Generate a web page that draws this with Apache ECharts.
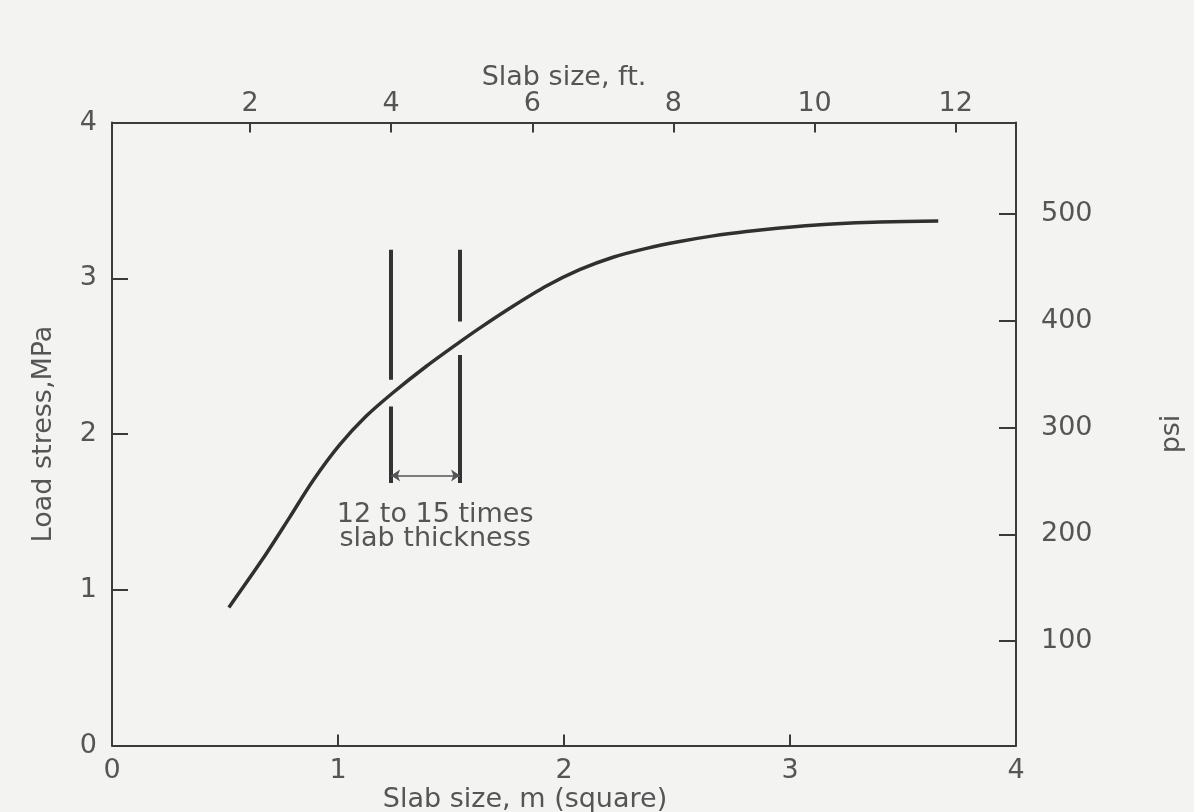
<!DOCTYPE html>
<html>
<head>
<meta charset="utf-8">
<script src="https://cdn.jsdelivr.net/npm/echarts@6/dist/echarts.min.js"></script>
<style>
  html, body { margin: 0; padding: 0; background: #f3f3f2; }
  #chart { width: 1194px; height: 812px; }
</style>
</head>
<body>
<div id="chart"></div>
<script>
// ---- data ----
const curveX = [0.517, 0.668, 0.786, 0.889, 1.007, 1.125, 1.243, 1.391, 1.538, 1.627, 1.774, 1.922, 2.069, 2.217, 2.365, 2.512, 2.660, 2.807, 2.955, 3.102, 3.250, 3.398, 3.656];
const curveY = [0.886, 1.200, 1.465, 1.700, 1.930, 2.115, 2.265, 2.435, 2.590, 2.680, 2.820, 2.950, 3.055, 3.135, 3.192, 3.236, 3.272, 3.300, 3.323, 3.341, 3.353, 3.361, 3.367];

const mTicks = [0, 1, 2, 3, 4];
const mpaTicks = [0, 1, 2, 3, 4];
const ftTicks = [2, 4, 6, 8, 10, 12];
const ftRange = [0.044, 12.854];
const psiTicks = [100, 200, 300, 400, 500];
const psiRange = [2, 586];

// marker bars: x position, [top, gap top, gap bottom, bottom]
const barLeftX = 1.235;
const barRightX = 1.54;
const barLeftY = [3.183, 2.348, 2.177, 1.686];
const barRightY = [3.183, 2.722, 2.508, 1.686];
const arrowY = 1.733;
const noteText = ['12 to 15 times', 'slab thickness'];
const notePos = [1.43, 1.405];

const titles = {
  bottom: 'Slab size, m (square)',
  top: 'Slab size, ft.',
  left: 'Load stress,MPa',
  right: 'psi'
};

// ---- chart ----
const chart = echarts.init(document.getElementById('chart'));
const FONT = 'DejaVu Sans';
const TXT = '#555555';
const LINE = '#3a3a3a';
const FS = 27;

const curveData = curveX.map((x, i) => [x, curveY[i]]);
const barSegments = [
  { coords: [[barLeftX, barLeftY[0]], [barLeftX, barLeftY[1]]] },
  { coords: [[barLeftX, barLeftY[2]], [barLeftX, barLeftY[3]]] },
  { coords: [[barRightX, barRightY[0]], [barRightX, barRightY[1]]] },
  { coords: [[barRightX, barRightY[2]], [barRightX, barRightY[3]]] }
];

const axisLineStyle = { show: true, lineStyle: { color: LINE, width: 2 } };
const labelStyle = { color: TXT, fontFamily: FONT, fontSize: FS };
const nameStyle = { color: TXT, fontFamily: FONT, fontSize: FS };

chart.setOption({
  backgroundColor: '#f3f3f2',
  animation: false,
  grid: { left: 112, right: 178, top: 122.5, bottom: 66.5, containLabel: false, outerBoundsMode: 'none' },
  xAxis: [
    {
      type: 'value', position: 'bottom', min: 0, max: 4, interval: 1,
      name: titles.bottom, nameLocation: 'middle', nameGap: 41, nameMoveOverlap: false,
      nameTextStyle: Object.assign({}, nameStyle, { padding: [0, 78, 0, 0] }),
      axisLine: axisLineStyle,
      axisTick: { show: true, inside: true, length: 11, lineStyle: { color: LINE, width: 2 }, customValues: mTicks },
      axisLabel: Object.assign({ margin: 12, customValues: mTicks }, labelStyle),
      splitLine: { show: false }
    },
    {
      type: 'value', position: 'top', min: ftRange[0], max: ftRange[1],
      name: titles.top, nameLocation: 'middle', nameGap: 31, nameMoveOverlap: false,
      nameTextStyle: nameStyle,
      axisLine: axisLineStyle,
      axisTick: { show: true, inside: true, length: 10, lineStyle: { color: LINE, width: 2 }, customValues: ftTicks },
      axisLabel: Object.assign({ margin: 5, customValues: ftTicks }, labelStyle),
      splitLine: { show: false }
    }
  ],
  yAxis: [
    {
      type: 'value', position: 'left', min: 0, max: 4, interval: 1,
      name: titles.left, nameLocation: 'middle', nameGap: 55, nameRotate: 90, nameMoveOverlap: false,
      nameTextStyle: nameStyle,
      axisLine: axisLineStyle,
      axisTick: { show: true, inside: true, length: 16, lineStyle: { color: LINE, width: 2 }, customValues: mpaTicks },
      axisLabel: Object.assign({ margin: 15, padding: [8, 0, 0, 0], customValues: mpaTicks }, labelStyle),
      splitLine: { show: false }
    },
    {
      type: 'value', position: 'right', min: psiRange[0], max: psiRange[1],
      name: titles.right, nameLocation: 'middle', nameGap: 142, nameRotate: 90, nameMoveOverlap: false,
      nameTextStyle: nameStyle,
      axisLine: axisLineStyle,
      axisTick: { show: true, inside: true, length: 17, lineStyle: { color: LINE, width: 2 }, customValues: psiTicks },
      axisLabel: Object.assign({ margin: 25, customValues: psiTicks }, labelStyle),
      splitLine: { show: false }
    }
  ],
  series: [
    {
      type: 'line', name: 'stress', xAxisIndex: 0, yAxisIndex: 0,
      data: curveData, smooth: 0.3, showSymbol: false, symbol: 'none',
      lineStyle: { color: '#303030', width: 3.5 }, silent: true
    },
    {
      type: 'lines', coordinateSystem: 'cartesian2d', xAxisIndex: 0, yAxisIndex: 0,
      data: barSegments, symbol: 'none',
      lineStyle: { color: '#333', width: 4, opacity: 1 }, silent: true
    },
    {
      type: 'lines', coordinateSystem: 'cartesian2d', xAxisIndex: 0, yAxisIndex: 0,
      data: [{ coords: [[barLeftX, arrowY], [barRightX, arrowY]] }],
      symbol: ['arrow', 'arrow'], symbolSize: [9, 9],
      lineStyle: { color: '#555', width: 1.5, opacity: 1 }, silent: true
    },
    {
      type: 'scatter', xAxisIndex: 0, yAxisIndex: 0,
      data: [notePos], symbolSize: 0, silent: true,
      itemStyle: { opacity: 1 },
      label: {
        show: true, position: 'inside', formatter: noteText.join('\n'),
        color: TXT, fontFamily: FONT, fontSize: FS, lineHeight: 24, align: 'center'
      }
    }
  ]
});
</script>
</body>
</html>
